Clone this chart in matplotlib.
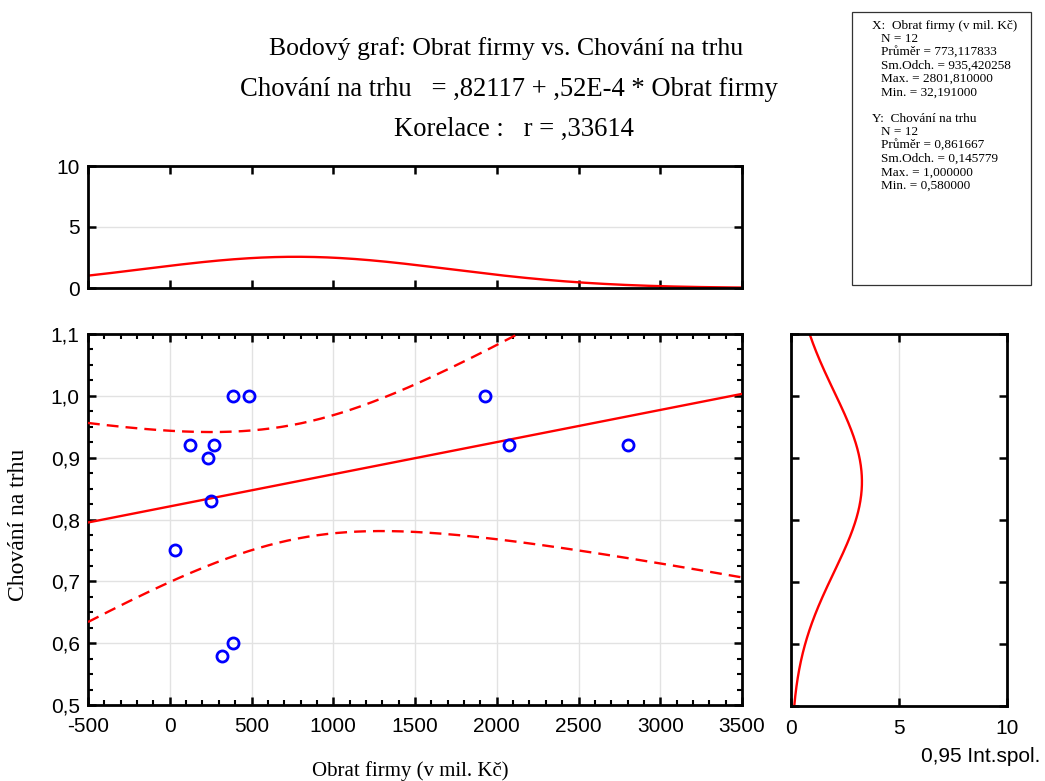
import numpy as np
import matplotlib
matplotlib.use("Agg")
import matplotlib.pyplot as plt
from matplotlib.ticker import MultipleLocator, FuncFormatter

# Observations: company turnover (mil. Kč) vs. market behaviour score
obrat = [32.19, 122, 232, 250, 268, 317, 384, 384, 482, 1930, 2075, 2801.81]
chovani = [0.75, 0.92, 0.90, 0.83, 0.92, 0.58, 0.60, 1.00, 1.00, 1.00, 0.92, 0.92]

# Summary statistics reported by the analysis
n = 12
x_mean, x_sd, x_max, x_min = 773.117833, 935.420258, 2801.81, 32.191
y_mean, y_sd, y_max, y_min = 0.861667, 0.145779, 1.0, 0.58
intercept, slope = 0.82117, 0.52e-4
r = 0.33614
t_crit = 2.228139  # Student t, 0.975 quantile, 10 df

x_ticks = [-500, 0, 500, 1000, 1500, 2000, 2500, 3000, 3500]
y_ticks = [0.5, 0.6, 0.7, 0.8, 0.9, 1.0, 1.1]
hist_ticks = [0, 5, 10]
x_bin, y_bin = 500, 0.1

sans = "Liberation Sans"
serif = "Liberation Serif"
plt.rcParams["font.family"] = sans
plt.rcParams["axes.unicode_minus"] = False

W, H = 1045, 781
fig = plt.figure(figsize=(W / 100, H / 100), dpi=100)


def box(l, t, r_, b):
    return [l / W, 1 - b / H, (r_ - l) / W, (b - t) / H]


ax_top = fig.add_axes(box(88, 166, 742, 288))
ax = fig.add_axes(box(88, 334, 742, 705))
ax_right = fig.add_axes(box(791, 334, 1007, 706))

red = "#ff0000"
blue = "#0000ff"
grid_c = "#e2e2e2"
spine_w = 2.0
tick_fs = 15


def style(a):
    for s in a.spines.values():
        s.set_linewidth(spine_w)
    a.tick_params(which="major", direction="in", length=6, width=1.8,
                  top=True, right=True, labelsize=tick_fs, pad=6)
    a.tick_params(which="minor", direction="in", length=3.5, width=1.5,
                  top=True, right=True)


comma = FuncFormatter(lambda v, p: f"{v:.1f}".replace(".", ","))

# Main scatter with regression line and 95 % confidence band
xs = np.linspace(x_ticks[0], x_ticks[-1], 400)
fit = intercept + slope * xs
s_res = y_sd * np.sqrt((1 - r ** 2) * (n - 1) / (n - 2))
sxx = (n - 1) * x_sd ** 2
half = t_crit * s_res * np.sqrt(1 / n + (xs - x_mean) ** 2 / sxx)

ax.plot(xs, fit, color=red, lw=1.7, zorder=3)
ax.plot(xs, fit + half, color=red, lw=1.7, ls=(0, (5, 3)), zorder=3)
ax.plot(xs, fit - half, color=red, lw=1.7, ls=(0, (5, 3)), zorder=3)
ax.plot(obrat, chovani, ls="none", marker="o", ms=8, mfc="none",
        mec=blue, mew=2.0, zorder=4)
ax.set_xlim(x_ticks[0], x_ticks[-1])
ax.set_ylim(y_ticks[0], y_ticks[-1])
ax.set_xticks(x_ticks)
ax.set_yticks(y_ticks)
ax.yaxis.set_major_formatter(comma)
ax.xaxis.set_minor_locator(MultipleLocator(100))
ax.yaxis.set_minor_locator(MultipleLocator(0.025))
ax.grid(True, which="major", color=grid_c, lw=1.0, zorder=0)
ax.set_axisbelow(True)
style(ax)
ax.tick_params(axis="x", pad=9)
fig.text(410 / W, 1 - 771 / H, "Obrat firmy (v mil. Kč)", ha="center",
         va="center", fontfamily=serif, fontsize=15)
fig.text(19 / W, 1 - 525 / H, "Chování na trhu", ha="center", va="center",
         rotation=90, fontfamily=serif, fontsize=17)

# Marginal normal curve for X, scaled to counts per bin
x_curve = n * x_bin * np.exp(-0.5 * ((xs - x_mean) / x_sd) ** 2) / (x_sd * np.sqrt(2 * np.pi))
ax_top.plot(xs, x_curve, color=red, lw=1.7)
ax_top.set_xlim(x_ticks[0], x_ticks[-1])
ax_top.set_ylim(hist_ticks[0], hist_ticks[-1])
ax_top.set_xticks(x_ticks)
ax_top.set_yticks(hist_ticks)
ax_top.tick_params(labelbottom=False)
ax_top.axhline(5, color=grid_c, lw=1.0, zorder=0)
style(ax_top)

# Marginal normal curve for Y, scaled to counts per bin
ys = np.linspace(y_ticks[0], y_ticks[-1], 400)
y_curve = n * y_bin * np.exp(-0.5 * ((ys - y_mean) / y_sd) ** 2) / (y_sd * np.sqrt(2 * np.pi))
ax_right.plot(y_curve, ys, color=red, lw=1.7)
ax_right.set_ylim(y_ticks[0], y_ticks[-1])
ax_right.set_xlim(hist_ticks[0], hist_ticks[-1])
ax_right.set_yticks(y_ticks)
ax_right.set_xticks(hist_ticks)
ax_right.tick_params(labelleft=False)
ax_right.axvline(5, color=grid_c, lw=1.0, zorder=0)
style(ax_right)
ax_right.tick_params(axis="x", pad=9)
fig.text(1040 / W, 1 - 756 / H, "0,95 Int.spol.", ha="right", va="center",
         fontsize=tick_fs, fontfamily=sans)


def cz(v, d):
    return f"{v:.{d}f}".replace(".", ",")


def short(v, d):
    s = cz(v, d)
    return s[1:] if s.startswith("0,") else s


# Titles
title_lines = [
    (506, 18.5, "Bodový graf: Obrat firmy vs. Chování na trhu"),
    (509, 19.2, f"Chování na trhu   = {short(intercept, 5)} + {short(slope * 1e4, 2)}E-4 * Obrat firmy"),
    (514, 19.2, f"Korelace :   r = {short(r, 5)}"),
]
for i, (xc, fs, line) in enumerate(title_lines):
    fig.text(xc / W, 1 - (49 + 40 * i) / H, line, ha="center", va="center",
             fontfamily=serif, fontsize=fs)

# Descriptive statistics box
fig.patches.append(plt.Rectangle((852 / W, 1 - 285 / H), (1031 - 852) / W,
                                 (285 - 12) / H, transform=fig.transFigure,
                                 fill=False, lw=0.9, ec="#333333"))
stats = [
    (872, "X:  Obrat firmy (v mil. Kč)"),
    (881, f"N = {n}"),
    (881, f"Průměr = {cz(x_mean, 6)}"),
    (881, f"Sm.Odch. = {cz(x_sd, 6)}"),
    (881, f"Max. = {cz(x_max, 6)}"),
    (881, f"Min. = {cz(x_min, 6)}"),
    (872, ""),
    (872, "Y:  Chování na trhu"),
    (881, f"N = {n}"),
    (881, f"Průměr = {cz(y_mean, 6)}"),
    (881, f"Sm.Odch. = {cz(y_sd, 6)}"),
    (881, f"Max. = {cz(y_max, 6)}"),
    (881, f"Min. = {cz(y_min, 6)}"),
]
for i, (xp, txt) in enumerate(stats):
    fig.text(xp / W, 1 - (26 + 13.3 * i) / H, txt, ha="left", va="center",
             fontfamily=serif, fontsize=9.5)

fig.savefig("out.png", dpi=100)
